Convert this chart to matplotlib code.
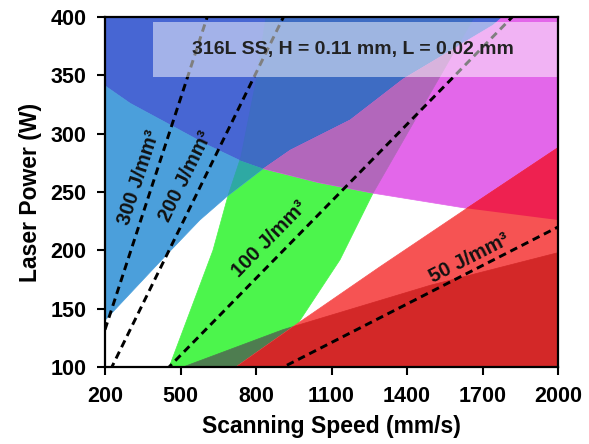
import numpy as np
import matplotlib
matplotlib.use("Agg")
import matplotlib.pyplot as plt
from matplotlib.patches import Polygon, Rectangle

plt.rcParams['font.family'] = ['Liberation Sans', 'DejaVu Sans']
plt.rcParams['font.weight'] = 'bold'

# Process parameters
hatch_mm = 0.11
layer_mm = 0.02
energy_levels = [300, 200, 100, 50]          # J/mm^3
label_speeds = [392, 583, 903, 1670]           # where each label sits along its line
label_offsets_px = [15, 17, 18, 12]

x_ticks = [200, 500, 800, 1100, 1400, 1700, 2000]
y_ticks = [100, 150, 200, 250, 300, 350, 400]

# Process-window boundaries (scanning speed mm/s, laser power W)
upper_blue_edge_v = [200, 300, 446, 600, 736, 828]
upper_blue_edge_p = [341, 326, 309, 291, 277, 270]
lower_blue_edge_v = [200, 426, 577, 689, 828]
lower_blue_edge_p = [140, 192, 226, 247, 270]
blue_magenta_v = [828, 935, 1174, 1384, 1742, 1780]
blue_magenta_p = [270, 286, 312, 347, 393, 400]
magenta_floor_v = [828, 1050, 1265, 1638, 2000]
magenta_floor_p = [270, 258, 249, 236, 226]
window_left_v = [455, 629, 689, 740, 800, 840]
window_left_p = [100, 200, 247, 280, 345, 400]
window_right_v = [860, 975, 1134, 1265, 1539, 1667]
window_right_p = [100, 140, 192, 249, 352, 400]
red_top_v = [720, 970, 1293, 1638, 2000]
red_top_p = [100, 138, 186, 236, 288]
dark_red_top_v = [510, 907, 1492, 2000]
dark_red_top_p = [100, 132, 170, 198]

C_DB, C_DBW = '#4766d3', '#3e6cc3'
C_LB, C_TEAL = '#4b9fdb', '#2ea9a3'
C_GREEN, C_DGRN = '#4cf54c', '#4e7d50'
C_MAG, C_PURP = '#e367ea', '#b267bb'
C_SALM, C_DRED, C_CRIM = '#f65353', '#d32828', '#ee2150'

fig = plt.figure(figsize=(5.89, 4.44), dpi=100)
ax = fig.add_axes([105 / 589, 1 - 367 / 444, 453 / 589, 350 / 444])
ax.set_xlim(200, 2000)
ax.set_ylim(100, 400)


def pts(v, p):
    return list(zip(v, p))


def poly(vertices, color, z, clip=None):
    patch = Polygon(vertices, closed=True, facecolor=color, edgecolor=color,
                    linewidth=0.5, zorder=z)
    ax.add_patch(patch)
    if clip is not None:
        patch.set_clip_path(clip)
    return patch


ub = pts(upper_blue_edge_v, upper_blue_edge_p)
lb = pts(lower_blue_edge_v, lower_blue_edge_p)
bm = pts(blue_magenta_v, blue_magenta_p)
mf = pts(magenta_floor_v, magenta_floor_p)
wl = pts(window_left_v, window_left_p)
wr = pts(window_right_v, window_right_p)
rt = pts(red_top_v, red_top_p)
dt = pts(dark_red_top_v, dark_red_top_p)

window_verts = wl + wr[::-1]
dark_red_verts = dt + [(2000, 100)]
red_verts = rt + [(2000, 100)]
dark_blue_verts = [(200, 400)] + ub + bm[1:]
magenta_verts = mf + [(2000, 400)] + bm[::-1][:-1]
light_blue_verts = ub + lb[::-1][1:]

window = poly(window_verts, C_GREEN, 1)
poly(dark_red_verts, C_DGRN, 2, clip=window)
dark_blue = poly(dark_blue_verts, C_DB, 3)
magenta = poly(magenta_verts, C_MAG, 3)
light_blue = poly(light_blue_verts, C_LB, 3)
poly(window_verts, C_DBW, 4, clip=dark_blue)
poly(window_verts, C_PURP, 4, clip=magenta)
poly(window_verts, C_TEAL, 4, clip=light_blue)
red = poly(red_verts, C_SALM, 5)
poly(dark_red_verts, C_DRED, 6, clip=red)
poly(red_verts, C_CRIM, 6, clip=magenta)

# Constant volumetric energy density lines: P = E * v * H * L
speeds = np.array([200.0, 2000.0])
for E, v_lab, off in zip(energy_levels, label_speeds, label_offsets_px):
    k = E * hatch_mm * layer_mm
    ax.plot(speeds, k * speeds, ls=(0, (2.6, 1.7)), color='black', lw=2.1,
            zorder=7)
    p0 = ax.transData.transform((200, k * 200))
    p1 = ax.transData.transform((2000, k * 2000))
    ang = np.degrees(np.arctan2(p1[1] - p0[1], p1[0] - p0[0]))
    nx, ny = -np.sin(np.radians(ang)), np.cos(np.radians(ang))
    off_pt = off * 72 / 100
    ax.annotate(f"{E} J/mm³", xy=(v_lab, k * v_lab), xytext=(nx * off_pt, ny * off_pt),
                textcoords='offset points', ha='center', va='center',
                rotation=ang, rotation_mode='anchor', fontsize=14.5,
                fontweight='bold', color='#111111', zorder=9)

ax.add_patch(Rectangle((0.106, 0.829), 0.892, 0.157, transform=ax.transAxes,
                       facecolor='white', alpha=0.5, edgecolor='none', zorder=8))
ax.text(0.547, 0.906, "316L SS, H = 0.11 mm, L = 0.02 mm", transform=ax.transAxes,
        ha='center', va='center', fontsize=14, fontweight='bold', color='#222222',
        zorder=9)

ax.set_xticks(x_ticks)
ax.set_yticks(y_ticks)
ax.set_xticklabels([str(t) for t in x_ticks])
ax.set_yticklabels([str(t) for t in y_ticks])
ax.tick_params(direction='out', length=5.5, width=1.5, labelsize=15.5, pad=8)
for lab in ax.get_xticklabels() + ax.get_yticklabels():
    lab.set_fontweight('bold')
for s in ax.spines.values():
    s.set_linewidth(1.6)
    s.set_color('black')
    s.set_zorder(10)

ax.set_xlabel("Scanning Speed (mm/s)", fontsize=16.5, fontweight='bold', labelpad=6)
ax.set_ylabel("Laser Power (W)", fontsize=16.5, fontweight='bold', labelpad=6)

fig.savefig("out.png", dpi=100)
